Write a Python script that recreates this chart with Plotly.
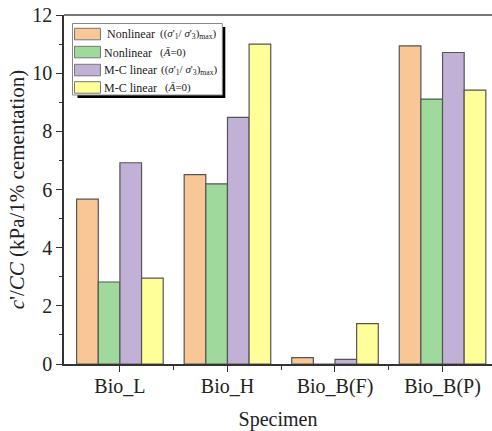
import plotly.graph_objects as go

categories = ["Bio_L", "Bio_H", "Bio_B(F)", "Bio_B(P)"]
legend_main = ["Nonlinear", "Nonlinear", "M-C linear", "M-C linear"]
legend_sub = [
    "((<i>σ</i>'<sub>1</sub>/ <i>σ</i>'<sub>3</sub>)<sub>max</sub>)",
    "(<i>A\u0304</i>=0)",
    "((<i>σ</i>'<sub>1</sub>/ <i>σ</i>'<sub>3</sub>)<sub>max</sub>)",
    "(<i>A\u0304</i>=0)",
]
nonlinear_max = [5.67, 6.51, 0.22, 10.94]
nonlinear_a0 = [2.82, 6.19, 0.0, 9.11]
mc_linear_max = [6.92, 8.48, 0.16, 10.71]
mc_linear_a0 = [2.95, 11.0, 1.39, 9.42]
colors = ["#F9C796", "#9FD99B", "#C2B1D7", "#FFFF99"]

W, H = 492, 431
L, R, T, B = 63.5, 0, 15, 67
pw = W - L - R
ph = H - T - B


def px2x(p):
    return (p - L) / pw


def px2y(p):
    return (H - B - p) / ph


font = "Liberation Serif"
x = list(range(len(categories)))
fig = go.Figure()
all_vals = [nonlinear_max, nonlinear_a0, mc_linear_max, mc_linear_a0]
for i, (vals, c) in enumerate(zip(all_vals, colors)):
    fig.add_trace(go.Bar(x=x, y=vals, name=legend_main[i] + " " + legend_sub[i],
                         marker=dict(color=c, line=dict(color="#555", width=1.2)),
                         showlegend=False))

shapes = []
annotations = []
# top frame line
shapes.append(dict(type="line", xref="paper", yref="paper", x0=0, x1=1, y0=1, y1=1,
                   line=dict(color="#777", width=2)))
# legend shadow and box
shapes.append(dict(type="rect", xref="paper", yref="paper",
                   x0=px2x(77), x1=px2x(225), y0=px2y(98), y1=px2y(27),
                   fillcolor="black", line=dict(width=0), layer="above"))
shapes.append(dict(type="rect", xref="paper", yref="paper",
                   x0=px2x(72), x1=px2x(222), y0=px2y(95), y1=px2y(23.5),
                   fillcolor="white", line=dict(color="#888", width=1), layer="above"))
sw_tops = [28.3, 46.3, 64.3, 81.7]
text_y = [34, 52.5, 70.3, 87.6]
main_x = [105, 102, 102, 102]
sub_x = [158, 158, 159, 163]
for i in range(4):
    shapes.append(dict(type="rect", xref="paper", yref="paper",
                       x0=px2x(74), x1=px2x(100), y0=px2y(sw_tops[i] + 11.5), y1=px2y(sw_tops[i]),
                       fillcolor=colors[i], line=dict(color="#777", width=1), layer="above"))
    annotations.append(dict(xref="paper", yref="paper", x=px2x(main_x[i]), y=px2y(text_y[i]),
                            xanchor="left", yanchor="middle", showarrow=False,
                            text=legend_main[i], font=dict(family=font, size=12, color="#222")))
    annotations.append(dict(xref="paper", yref="paper", x=px2x(sub_x[i]), y=px2y(text_y[i]),
                            xanchor="left", yanchor="middle", showarrow=False,
                            text=legend_sub[i], font=dict(family=font, size=11, color="#222")))

fig.update_layout(
    width=W, height=H,
    margin=dict(l=L, r=R, t=T, b=B),
    paper_bgcolor="white", plot_bgcolor="white",
    barmode="group", bargap=0.195, bargroupgap=0,
    font=dict(family=font, color="#222", size=20),
    showlegend=False,
    shapes=shapes, annotations=annotations,
    xaxis=dict(range=[-0.52, 3.46], tickvals=x, ticktext=categories,
               showline=True, linecolor="#333", linewidth=1.5,
               ticks="outside", ticklen=6, tickcolor="#333",
               ticklabelstandoff=-3,
               minor=dict(tickvals=[0.5, 1.5, 2.5], ticks="outside", ticklen=4, tickcolor="#333"),
               showgrid=False, zeroline=False,
               tickfont=dict(size=20),
               title=dict(text="Specimen", font=dict(size=20), standoff=15)),
    yaxis=dict(range=[0, 12], tickvals=[0, 2, 4, 6, 8, 10, 12],
               showline=True, linecolor="#333", linewidth=1.5,
               ticks="outside", ticklen=6, tickcolor="#333",
               minor=dict(tickvals=[1, 3, 5, 7, 9, 11], ticks="outside", ticklen=3, tickcolor="#333"),
               showgrid=False, zeroline=False,
               tickfont=dict(size=20),
               title=dict(text="<i>c</i>'/<i>CC</i> (kPa/1% cementation)", font=dict(size=21), standoff=2)),
)

fig.write_html("out.html")
